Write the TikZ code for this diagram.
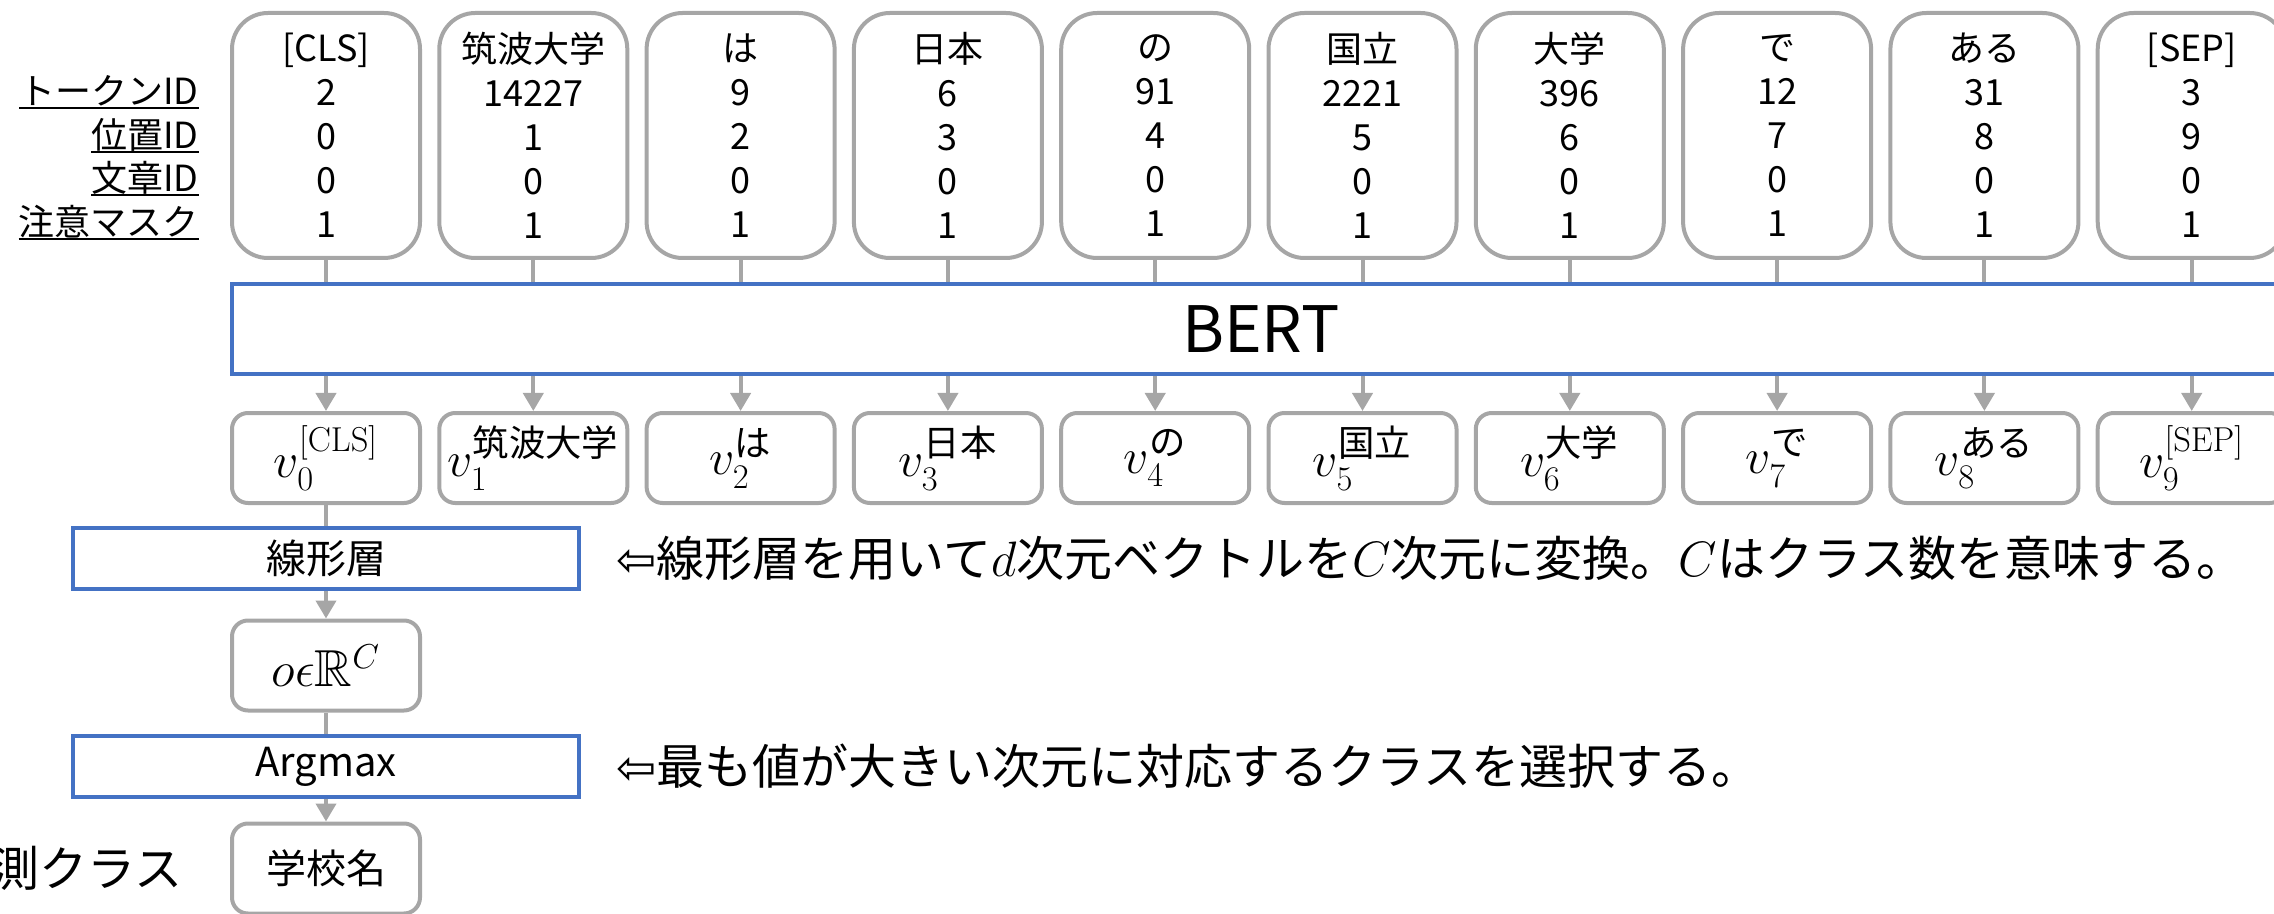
\documentclass[tikz,border=0pt]{standalone}
\usepackage{amsmath,amssymb}
\usepackage[no-math]{fontspec}
\setmainfont{Noto Sans CJK JP}
\newfontfamily\djv{DejaVu Sans}
\usetikzlibrary{arrows.meta}
\definecolor{boxgray}{HTML}{A6A6A6}
\definecolor{bertblue}{HTML}{4472C4}
\newcommand\myul[1]{\setbox0\hbox{#1}\rlap{\rule[-2.2pt]{\wd0}{1.4pt}}\box0}
\tikzset{
  tok/.style={draw=boxgray, line width=2pt, rounded corners=18pt, minimum width=94pt, minimum height=122.5pt, align=center, inner sep=0pt, font=\fontsize{18}{22}\selectfont},
  vec/.style={draw=boxgray, line width=2pt, rounded corners=8pt, minimum width=94pt, minimum height=45pt, inner sep=0pt, font=\fontsize{26}{30}\selectfont},
  layer/.style={draw=bertblue, line width=2pt, minimum width=253pt, minimum height=30.5pt, inner sep=0pt, font=\fontsize{20}{24}\selectfont},
  bertbox/.style={draw=bertblue, line width=2pt, minimum width=1029pt, minimum height=45pt, inner sep=0pt, font=\fontsize{32}{38}\selectfont},
  lab/.style={anchor=base east, inner sep=0pt, font=\fontsize{18}{22}\selectfont},
  note/.style={anchor=west, inner sep=0pt, font=\fontsize{24}{28}\selectfont},
  conn/.style={draw=boxgray, line width=2pt},
  arr/.style={conn, -{Triangle[width=10pt,length=9pt]}},
}
\begin{document}
\begin{tikzpicture}[x=0.5pt,y=-0.5pt]
\useasboundingbox (0,0) rectangle (2274,914);
\clip (0,0) rectangle (2274,914);
\node[bertbox] (bert) at (1261,329) {BERT};
\foreach \i/\tk/\tid/\tpos/\vsup in {0/[CLS]/2/0/\mathrm{[CLS]}, 1/筑波大学/14227/1/\text{筑波大学}, 2/は/9/2/\text{は}, 3/日本/6/3/\text{日本}, 4/の/91/4/\text{の}, 5/国立/2221/5/\text{国立}, 6/大学/396/6/\text{大学}, 7/で/12/7/\text{で}, 8/ある/31/8/\text{ある}, 9/[SEP]/3/9/\mathrm{[SEP]}}{
  \node[tok] (t\i) at ({326+207.3*\i},135.5) {\tk\\\tid\\\tpos\\0\\1};
  \node[vec] (v\i) at ({326+207.3*\i},458) {$v_{\i}^{\vsup}$};
  \draw[conn] (t\i.south) -- (t\i.south |- bert.north);
  \draw[arr] (v\i.north |- bert.south) -- (v\i.north);
}
\node[lab] (l1) at (199,105) {\myul{トークンID}};
\node[lab] (l2) at (199,149) {\myul{位置ID}};
\node[lab] (l3) at (199,192) {\myul{文章ID}};
\node[lab] (l4) at (199,236) {\myul{注意マスク}};
\node[layer] (lin) at (326,558.5) {線形層};
\node[vec] (o) at (326,665.5) {$o\epsilon\mathbb{R}^{C}$};
\node[layer] (arg) at (326,766.5) {Argmax};
\node[vec, font=\fontsize{20}{24}\selectfont] (cls) at (326,868.5) {学校名};
\node[anchor=east, inner sep=0pt, font=\fontsize{24}{28}\selectfont] (pred) at (183,868) {予測クラス};
\draw[conn] (v0.south) -- (lin.north);
\draw[arr] (lin.south) -- (o.north);
\draw[conn] (o.south) -- (arg.north);
\draw[arr] (arg.south) -- (cls.north);
\node[note] (n1) at (616,558) {{\djv ⇦}線形層を用いて$d$次元ベクトルを$C$次元に変換。$C$はクラス数を意味する。};
\node[note] (n2) at (616,766) {{\djv ⇦}最も値が大きい次元に対応するクラスを選択する。};
\end{tikzpicture}
\end{document}
